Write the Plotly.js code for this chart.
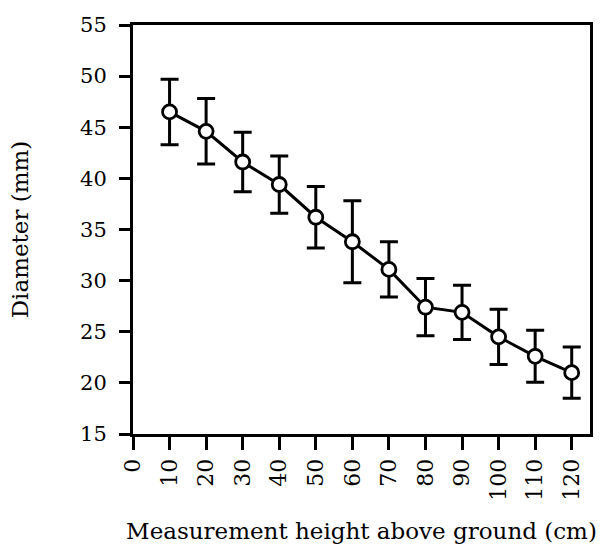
<!DOCTYPE html>
<html>
<head>
<meta charset="utf-8">
<script src="https://cdn.plot.ly/plotly-3.0.1.min.js"></script>
<style>
  html, body { margin: 0; padding: 0; background: #fff; }
  #chart { width: 605px; height: 554px; }
</style>
</head>
<body>
<div id="chart"></div>
<script>
// Stem diameter at each measurement height, with error bars
const heights = [10, 20, 30, 40, 50, 60, 70, 80, 90, 100, 110, 120];
const diameters = [46.5, 44.6, 41.6, 39.4, 36.2, 33.8, 31.1, 27.4, 26.9, 24.5, 22.6, 21.0];
const errors = [3.2, 3.2, 2.9, 2.8, 3.0, 4.0, 2.7, 2.8, 2.65, 2.7, 2.55, 2.5];
const xTicks = [0, 10, 20, 30, 40, 50, 60, 70, 80, 90, 100, 110, 120];
const yTicks = [15, 20, 25, 30, 35, 40, 45, 50, 55];

const serif = "DejaVu Serif, Liberation Serif, serif";

const trace = {
  x: heights,
  y: diameters,
  type: "scatter",
  mode: "lines+markers",
  line: { color: "#000", width: 3 },
  marker: {
    symbol: "circle",
    size: 14,
    color: "#fff",
    line: { color: "#000", width: 2.8 }
  },
  error_y: {
    type: "data",
    array: errors,
    visible: true,
    color: "#000",
    thickness: 3,
    width: 9
  },
  showlegend: false,
  hoverinfo: "x+y"
};

const layout = {
  width: 605,
  height: 554,
  margin: { l: 133, r: 15, t: 25, b: 120 },
  paper_bgcolor: "#fff",
  plot_bgcolor: "#fff",
  font: { family: serif, color: "#000" },
  xaxis: {
    range: [0, 125],
    tickvals: xTicks,
    ticktext: xTicks.map(String),
    tickangle: -90,
    ticks: "outside",
    ticklen: 13,
    tickwidth: 3,
    tickcolor: "#000",
    tickfont: { family: serif, size: 22, color: "#000" },
    showline: true,
    linecolor: "#000",
    linewidth: 3,
    mirror: true,
    showgrid: false,
    zeroline: false,
    automargin: false,
    title: {
      text: "Measurement height above ground (cm)",
      font: { family: serif, size: 23, color: "#000" },
      standoff: 24
    }
  },
  yaxis: {
    range: [15, 55],
    tickvals: yTicks,
    ticks: "outside",
    ticklen: 11,
    tickwidth: 3,
    tickcolor: "#000",
    ticklabelstandoff: 8,
    tickfont: { family: serif, size: 21, color: "#000" },
    showline: true,
    linecolor: "#000",
    linewidth: 3,
    mirror: true,
    showgrid: false,
    zeroline: false,
    automargin: false,
    title: {
      text: "Diameter (mm)",
      font: { family: serif, size: 23, color: "#000" },
      standoff: 46
    }
  }
};

Plotly.newPlot("chart", [trace], layout, { displayModeBar: false, staticPlot: true });
</script>
</body>
</html>
